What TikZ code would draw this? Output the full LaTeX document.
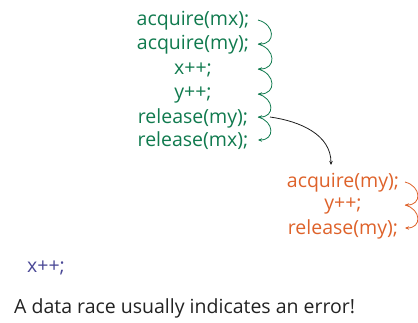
\documentclass[tikz,border=0pt]{standalone}
\usepackage{fontspec}
\setmainfont{Open Sans}
\usetikzlibrary{arrows.meta}
\definecolor{thrA}{RGB}{16,122,78}
\definecolor{thrB}{RGB}{222,98,42}
\definecolor{thrC}{RGB}{74,72,150}
\definecolor{note}{RGB}{34,34,34}
\begin{document}
\begin{tikzpicture}[x=1pt,y=1pt,
  code/.style={font=\fontsize{19.5}{22}\selectfont, inner sep=0pt, anchor=center},
  stepA/.style={code, text=thrA},
  stepB/.style={code, text=thrB},
  flow/.style={-{Stealth[length=4pt,width=3.5pt]}, line width=0.8pt, looseness=1.9},
]
\useasboundingbox (0,0) rectangle (418,322);

% thread 1
\node[stepA] (a1) at (193,301) {acquire(mx);};
\node[stepA] (a2) at (193,277) {acquire(my);};
\node[stepA] (a3) at (193,252) {x++;};
\node[stepA] (a4) at (193,227) {y++;};
\node[stepA] (a5) at (193,204) {release(my);};
\node[stepA] (a6) at (193,181) {release(mx);};
\foreach \i/\y in {1/302,2/278,3/253,4/228,5/205,6/182}
  \coordinate (r\i) at (258,\y);
\foreach \i/\j in {1/2,2/3,3/4,4/5,5/6}
  \draw[flow, thrA] (r\i) to[out=-15, in=0] (r\j);

% thread 2
\node[stepB] (b1) at (343,139) {acquire(my);};
\node[stepB] (b2) at (343,116) {y++;};
\node[stepB] (b3) at (343,93)  {release(my);};
\foreach \i/\y in {1/140,2/117,3/94}
  \coordinate (s\i) at (405,\y);
\foreach \i/\j in {1/2,2/3}
  \draw[flow, thrB] (s\i) to[out=-15, in=0] (s\j);

% hand-over between the threads
\coordinate (h0) at (270,205);
\coordinate (h1) at (331,157);
\draw[-{Stealth[length=4pt,width=3.5pt]}, line width=0.8pt, note!85!black]
  (h0) to[out=-8, in=90] (h1);

% racing access
\node[code, text=thrC] (c1) at (46,54) {x++;};

\node[code, text=note, anchor=west] (msg) at (14,14) {A data race usually indicates an error!};
\end{tikzpicture}
\end{document}
